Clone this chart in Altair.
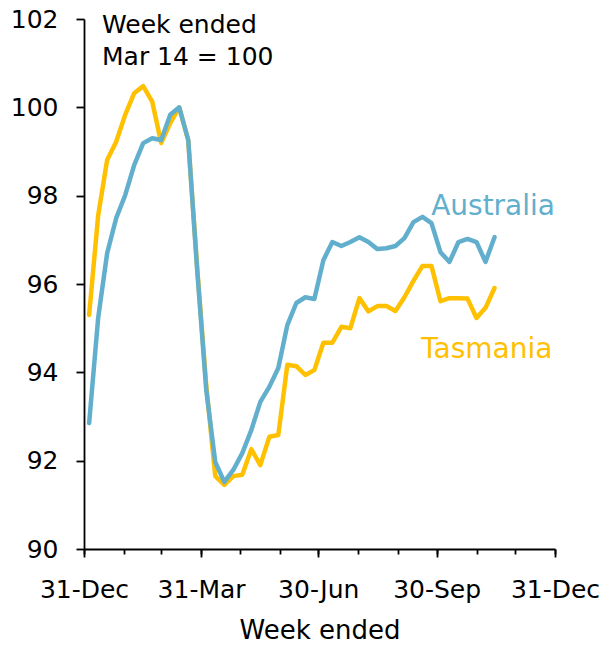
import altair as alt
import pandas as pd

# Weekly payroll jobs index, week ended Mar 14 = 100
week_ended = pd.date_range("2020-01-04", periods=46, freq="7D")

australia = [
    92.85, 95.23, 96.70, 97.49, 98.01, 98.69, 99.19, 99.30, 99.26, 99.83,
    100.00, 99.26, 96.30, 93.60, 91.97, 91.52, 91.79, 92.17, 92.69, 93.33,
    93.67, 94.10, 95.07, 95.57, 95.70, 95.66, 96.54, 96.95, 96.86, 96.95,
    97.06, 96.95, 96.79, 96.81, 96.86, 97.04, 97.40, 97.52, 97.38, 96.72,
    96.50, 96.95, 97.02, 96.95, 96.50, 97.06,
]

tasmania = [
    95.30, 97.55, 98.81, 99.22, 99.83, 100.32, 100.48, 100.13, 99.19, 99.64,
    100.00, 99.25, 96.35, 93.70, 91.65, 91.45, 91.65, 91.68, 92.26, 91.90,
    92.54, 92.58, 94.17, 94.14, 93.94, 94.05, 94.67, 94.67, 95.03, 95.00,
    95.68, 95.38, 95.50, 95.50, 95.39, 95.70, 96.07, 96.41, 96.41, 95.61,
    95.68, 95.68, 95.67, 95.23, 95.46, 95.91,
]

# Quarter ends carry a label; every month end gets a minor tick
quarter_ends = ["2019-12-31", "2020-03-31", "2020-06-30", "2020-09-30", "2020-12-31"]
month_ends = [
    "2019-12-31", "2020-01-31", "2020-02-29", "2020-03-31", "2020-04-30",
    "2020-05-31", "2020-06-30", "2020-07-31", "2020-08-31", "2020-09-30",
    "2020-10-31", "2020-11-30", "2020-12-31",
]
y_ticks = [90, 92, 94, 96, 98, 100, 102]

series_names = ["Australia", "Tasmania"]
series_colors = ["#62AFCD", "#FFC000"]
label_points = {"Australia": ("2020-12-31", 97.74), "Tasmania": ("2020-12-29", 94.5)}

FONT = "DejaVu Sans"
BLUE, GOLD = series_colors


def ms(d):
    return int(pd.Timestamp(d, tz="UTC").timestamp() * 1000)


df = pd.concat([
    pd.DataFrame({"week": week_ended, "region": "Australia", "value": australia}),
    pd.DataFrame({"week": week_ended, "region": "Tasmania", "value": tasmania}),
])
df["week"] = df["week"].dt.strftime("%Y-%m-%d")

labels_df = pd.DataFrame({
    "region": series_names,
    "week": [label_points[n][0] for n in series_names],
    "value": [label_points[n][1] for n in series_names],
})

x_scale = alt.Scale(type="utc", domain=[ms(month_ends[0]), ms(month_ends[-1])])
y_scale = alt.Scale(domain=[90, 102], nice=False, zero=False)

x_axis_major = alt.Axis(
    values=[ms(d) for d in quarter_ends],
    labelExpr="utcFormat(datum.value, '%d-%b')",
    title="Week ended",
    orient="bottom",
    tickSize=8,
    labelPadding=20,
    titlePadding=15,
    labelFlush=False,
    labelOverlap=False,
    grid=False,
)
x_axis_minor = alt.Axis(
    values=[ms(d) for d in month_ends],
    orient="bottom",
    labels=False,
    domain=False,
    title=None,
    tickSize=5,
    grid=False,
)
y_axis = alt.Axis(
    values=y_ticks,
    title=None,
    tickSize=8,
    labelPadding=18,
    grid=False,
)

base = alt.Chart(df).encode(
    x=alt.X("week:T", scale=x_scale, axis=x_axis_major),
    y=alt.Y("value:Q", scale=y_scale, axis=y_axis),
)

tas_line = base.transform_filter(alt.datum.region == "Tasmania").mark_line(
    color=GOLD, strokeWidth=4.5, strokeJoin="round", strokeCap="round"
)
aus_line = base.transform_filter(alt.datum.region == "Australia").mark_line(
    color=BLUE, strokeWidth=4.5, strokeJoin="round", strokeCap="round"
)

# Invisible layer that only carries the month-end minor ticks
minor_ticks = alt.Chart(pd.DataFrame({"week": month_ends})).mark_point(opacity=0).encode(
    x=alt.X("week:T", scale=x_scale, axis=x_axis_minor),
    y=alt.value(0),
)

series_labels = alt.Chart(labels_df).mark_text(
    align="right", baseline="middle", font=FONT, fontSize=28
).encode(
    x=alt.X("week:T", scale=x_scale, axis=x_axis_major),
    y=alt.Y("value:Q", scale=y_scale, axis=y_axis),
    text="region:N",
    color=alt.Color("region:N", scale=alt.Scale(domain=series_names, range=series_colors), legend=None),
)

note = alt.Chart(pd.DataFrame({"t": [["Week ended", "Mar 14 = 100"]]})).mark_text(
    align="left", baseline="alphabetic", font=FONT, fontSize=25, lineHeight=32, color="#000000"
).encode(
    x=alt.value(18),
    y=alt.value(14),
    text="t",
)

main = alt.layer(tas_line, aus_line, series_labels, note)

chart = alt.layer(main, minor_ticks).resolve_axis(x="independent").properties(
    width=471,
    height=530,
    autosize=alt.AutoSizeParams(type="none"),
    padding={"left": 84, "top": 19, "right": 52, "bottom": 96},
).configure_axis(
    labelFont=FONT,
    labelFontSize=25,
    labelColor="#000000",
    titleFont=FONT,
    titleFontSize=26,
    titleFontWeight="normal",
    titleColor="#000000",
    domainColor="#000000",
    domainWidth=1.8,
    tickColor="#000000",
    tickWidth=1.8,
).configure_view(stroke=None)

chart.save("out.html", embed_options={"renderer": "svg", "actions": False})
